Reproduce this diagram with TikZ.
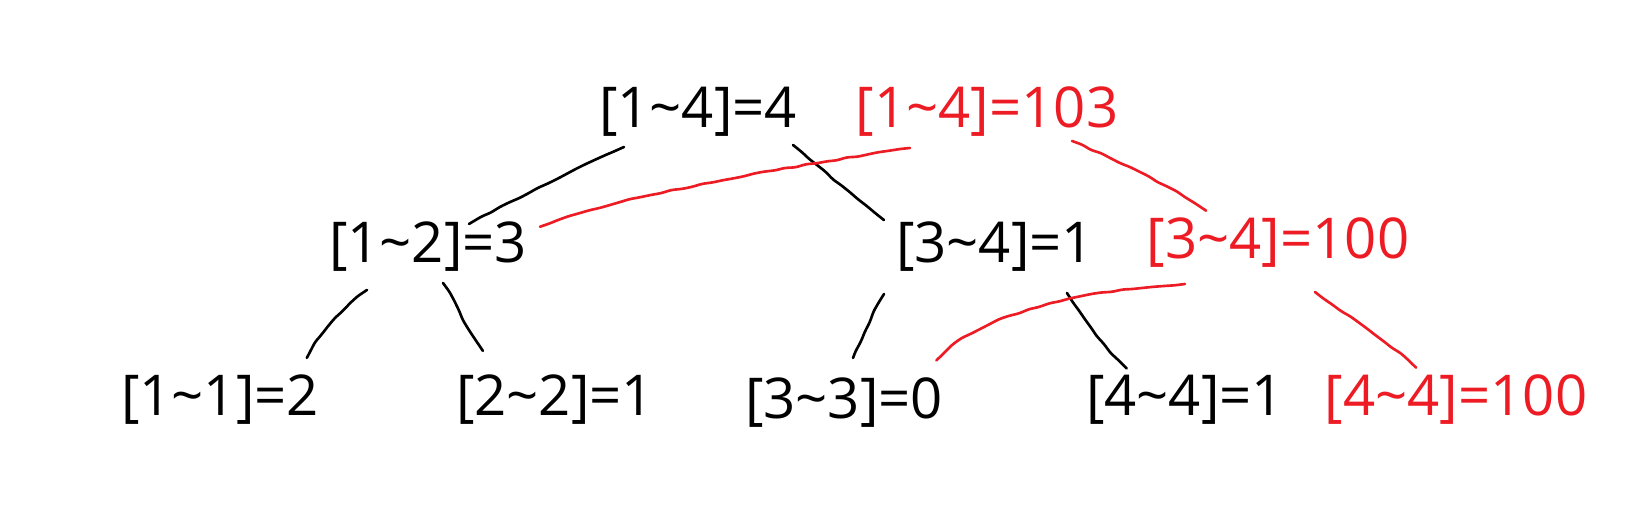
\documentclass[tikz,border=0pt]{standalone}
\usepackage{fontspec}
\setmainfont{Open Sans}
\usetikzlibrary{decorations.pathmorphing}
\definecolor{pred}{RGB}{237,28,36}
\begin{document}
\begin{tikzpicture}[x=0.01cm,y=-0.01cm,
  lab/.style={inner sep=0pt, font=\fontsize{16}{18}\selectfont},
  rlab/.style={lab, text=pred},
  wob/.style={line width=0.75pt, line cap=round, line join=round, rounded corners=0.8pt,
    decorate, decoration={random steps, segment length=3pt, amplitude=0.22pt}},
  blk/.style={wob, draw=black},
  rd/.style={wob, draw=pred}]
\pgfmathsetseed{11}
\useasboundingbox (0,0) rectangle (1627,528);
% nodes
\node[lab]  (A)  at (698,112) {[1\textasciitilde 4]=4};
\node[rlab] (Ar) at (987,112) {[1\textasciitilde 4]=103};
\node[lab]  (B)  at (428,247) {[1\textasciitilde 2]=3};
\node[lab]  (C)  at (995,247) {[3\textasciitilde 4]=1};
\node[rlab] (Cr) at (1278,243) {[3\textasciitilde 4]=100};
\node[lab]  (D)  at (220,400) {[1\textasciitilde 1]=2};
\node[lab]  (E)  at (555,400) {[2\textasciitilde 2]=1};
\node[lab]  (F)  at (844,403) {[3\textasciitilde 3]=0};
\node[lab]  (G)  at (1185,400) {[4\textasciitilde 4]=1};
\node[rlab] (Gr) at (1456,400) {[4\textasciitilde 4]=100};
% black connectors
\draw[blk] ([shift={(-74,35)}]A.center) .. controls (572,170) and (521,196) .. ([shift={(41,-23)}]B.center);
\draw[blk] ([shift={(95,33)}]A.center) .. controls (823,170) and (854,197) .. ([shift={(-111,-27)}]C.center);
\draw[blk] ([shift={(-61,43)}]B.center) .. controls (340,310) and (318,335) .. ([shift={(87,-42)}]D.center);
\draw[blk] ([shift={(15,36)}]B.center) .. controls (455,300) and (468,335) .. ([shift={(-71,-50)}]E.center);
\draw[blk] ([shift={(-111,47)}]C.center) .. controls (873,312) and (862,338) .. ([shift={(9,-45)}]F.center);
\draw[blk] ([shift={(72,46)}]C.center) .. controls (1085,318) and (1103,348) .. ([shift={(-58,-32)}]G.center);
% red connectors
\draw[rd] ([shift={(-77,36)}]Ar.center) .. controls (780,168) and (600,200) .. ([shift={(112,-20)}]B.center);
\draw[rd] ([shift={(85,29)}]Ar.center) .. controls (1112,158) and (1170,185) .. ([shift={(-72,-32)}]Cr.center);
\draw[rd] ([shift={(-93,41)}]Cr.center) .. controls (1080,290) and (972,316) .. ([shift={(93,-42)}]F.center);
\draw[rd] ([shift={(37,49)}]Cr.center) .. controls (1345,315) and (1390,342) .. ([shift={(-40,-32)}]Gr.center);
\end{tikzpicture}
\end{document}
